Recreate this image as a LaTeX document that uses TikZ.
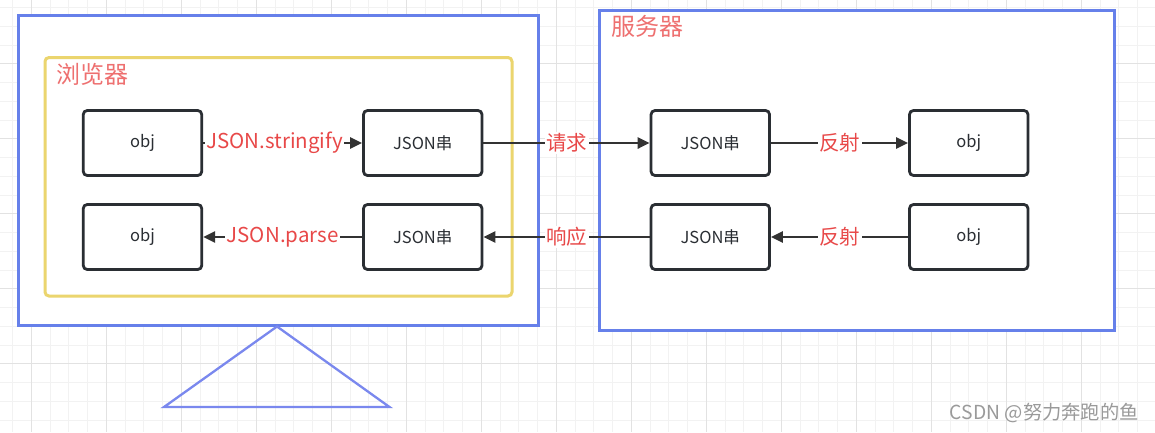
\documentclass[tikz,border=0pt]{standalone}
\usepackage{fontspec}
\setmainfont{Noto Sans CJK SC}
\usetikzlibrary{arrows.meta}
\definecolor{gridminor}{HTML}{F2F2F2}
\definecolor{gridmajor}{HTML}{E2E2E2}
\definecolor{bluebox}{HTML}{6680EA}
\definecolor{yellowbox}{HTML}{EBD56E}
\definecolor{tricol}{HTML}{7A88EE}
\definecolor{titlered}{HTML}{EE7070}
\definecolor{labelred}{HTML}{E84848}
\definecolor{boxline}{HTML}{2A2E33}
\definecolor{conncol}{HTML}{333333}
\definecolor{wmcol}{HTML}{9A9A9A}
\begin{document}
\begin{tikzpicture}[x=1pt,y=-1pt,
  stepbox/.style={draw=boxline, line width=2.8pt, rounded corners=4pt, fill=white,
    minimum width=118.5pt, minimum height=65pt, inner sep=0pt,
    font=\fontsize{16.5}{16.5}\selectfont, text=boxline},
  conn/.style={draw=conncol, line width=2.7pt, -{Triangle[length=12pt,width=11pt]}},
  lbl/.style={fill=white, inner sep=1.5pt, text=labelred, font=\fontsize{20.5}{20.5}\selectfont},
  titlelbl/.style={anchor=west, inner sep=0pt, text=titlered, font=\fontsize{24}{24}\selectfont},
  container/.style={line width=3pt, fill=white},
]
\useasboundingbox (0,0) rectangle (1155,432);
\fill[white] (0,0) rectangle (1155,432);
% grid
\foreach \i in {0,...,60} \draw[gridminor, line width=1pt] ({12.7+18.75*\i},0) -- ({12.7+18.75*\i},432);
\foreach \j in {0,...,22} \draw[gridminor, line width=1pt] (0,{7.5+18.75*\j}) -- (1155,{7.5+18.75*\j});
\foreach \i in {1,5,...,57} \draw[gridmajor, line width=1pt] ({12.7+18.75*\i},0) -- ({12.7+18.75*\i},432);
\foreach \j in {3,7,...,19} \draw[gridmajor, line width=1pt] (0,{7.5+18.75*\j}) -- (1155,{7.5+18.75*\j});
% containers
\draw[container, draw=bluebox] (18,15) rectangle (538,325);
\draw[container, draw=yellowbox, rounded corners=4pt] (45,57.5) rectangle (512,296);
\draw[container, draw=bluebox] (599,10) rectangle (1114,330);
\draw[line width=2.3pt, draw=tricol, line join=miter] (277,326.5) -- (389.5,407) -- (164,407) -- cycle;
% titles
\node[titlelbl] (tbrowser) at (56,74) {浏览器};
\node[titlelbl] (tserver) at (611,26) {服务器};
% boxes
\node[stepbox] (bobj1) at (142.5,143) {obj};
\node[stepbox] (bjson1) at (422.75,143) {JSON串};
\node[stepbox] (sjson1) at (710.3,143) {JSON串};
\node[stepbox] (sobj1) at (968.75,143) {obj};
\node[stepbox] (bobj2) at (142.5,237) {obj};
\node[stepbox] (bjson2) at (422.75,237) {JSON串};
\node[stepbox] (sjson2) at (710.3,237) {JSON串};
\node[stepbox] (sobj2) at (968.75,237) {obj};
% connectors
\draw[conn] (bobj1) -- node[lbl, pos=0.45] {JSON.stringify} (bjson1);
\draw[conn] (bjson1) -- node[lbl] {请求} (sjson1);
\draw[conn] (sjson1) -- node[lbl] {反射} (sobj1);
\draw[conn] (bjson2) -- node[lbl, pos=0.5] {JSON.parse} (bobj2);
\draw[conn] (sjson2) -- node[lbl] {响应} (bjson2);
\draw[conn] (sobj2) -- node[lbl] {反射} (sjson2);
% watermark
\node[anchor=east, inner sep=0pt, text=wmcol, font=\fontsize{19.3}{19.3}\selectfont] (wm) at (1139,413) {CSDN @努力奔跑的鱼};
\end{tikzpicture}
\end{document}
